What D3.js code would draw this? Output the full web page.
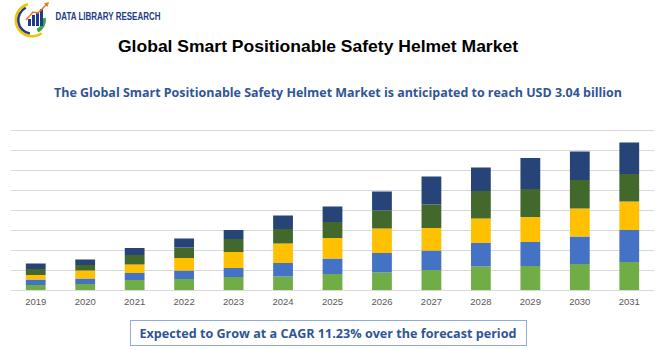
<!DOCTYPE html>
<html><head><meta charset="utf-8">
<script src="https://cdn.jsdelivr.net/npm/d3@7"></script>
<style>body{margin:0;background:#fff;}svg{display:block;}</style>
</head><body>
<script>
const years = ["2019","2020","2021","2022","2023","2024","2025","2026","2027","2028","2029","2030","2031"];
const seriesNames = ["s1","s2","s3","s4","s5"];
const s1 = [0.10,0.12,0.20,0.22,0.26,0.27,0.32,0.35,0.40,0.47,0.48,0.52,0.56];
const s2 = [0.11,0.11,0.14,0.17,0.18,0.27,0.31,0.39,0.39,0.47,0.48,0.55,0.64];
const s3 = [0.09,0.16,0.17,0.25,0.32,0.39,0.41,0.49,0.45,0.49,0.50,0.56,0.57];
const s4 = [0.12,0.11,0.19,0.21,0.26,0.29,0.32,0.36,0.47,0.55,0.56,0.57,0.55];
const s5 = [0.11,0.11,0.14,0.18,0.18,0.27,0.31,0.38,0.56,0.47,0.62,0.57,0.63];
const colors = ["#70AD47","#4472C4","#FFC000","#43682B","#264478"];
const yTicks = [0,0.4,0.8,1.2,1.6,2.0,2.4,2.8,3.2];
const title = "Global Smart Positionable Safety Helmet Market";
const subtitle = "The Global Smart Positionable Safety Helmet Market is anticipated to reach USD 3.04 billion";
const cagrText = "Expected to Grow at a CAGR 11.23% over the forecast period";
const brand = "DATA LIBRARY RESEARCH";

const W=670,H=350;
const svg=d3.select("body").append("svg").attr("width",W).attr("height",H);

// logo
const lg=svg.append("g");
const arc=d3.arc();
const cx=32, cy=20;
lg.append("path").attr("transform",`translate(${cx},${cy})`)
  .attr("d",arc({innerRadius:15,outerRadius:17.5,startAngle:Math.PI*0.8,endAngle:Math.PI*1.92})).attr("fill","#F2C200");
lg.append("path").attr("transform",`translate(${cx},${cy})`)
  .attr("d",arc({innerRadius:12.5,outerRadius:15,startAngle:Math.PI*1.05,endAngle:Math.PI*1.85})).attr("fill","#1F3C88");
lg.append("path").attr("transform",`translate(${cx},${cy})`)
  .attr("d",arc({innerRadius:10,outerRadius:14,startAngle:Math.PI*0.45,endAngle:Math.PI*0.85})).attr("fill","#3BA34A");
[[28,19],[32,15],[36,12],[40,9]].forEach(b=>{
  lg.append("rect").attr("x",b[0]).attr("y",b[1]).attr("width",3).attr("height",26-b[1]).attr("fill","#1F3C88");
});
lg.append("path").attr("d","M26,20 L33,12 L38,13 L47,4").attr("fill","none").attr("stroke","#E8792B").attr("stroke-width",1.5);
lg.append("path").attr("d","M49,2 L44,3.5 L47.5,7 Z").attr("fill","#E8792B");
lg.append("text").attr("x",55.5).attr("y",20).text(brand)
  .attr("font-family","'Liberation Sans Narrow','Liberation Sans',Arial,sans-serif").attr("font-weight","bold")
  .attr("font-size",11).attr("fill","#1F3C88").attr("textLength",105).attr("lengthAdjust","spacingAndGlyphs");

// titles
svg.append("text").attr("x",318).attr("y",52).attr("text-anchor","middle").text(title)
  .attr("font-family","'Liberation Sans',Arial,sans-serif").attr("font-weight","bold").attr("font-size",16.5)
  .attr("fill","#000").attr("textLength",400).attr("lengthAdjust","spacingAndGlyphs");
svg.append("text").attr("x",338).attr("y",97).attr("text-anchor","middle").text(subtitle)
  .attr("font-family","'Open Sans','Liberation Sans',sans-serif").attr("font-weight","bold").attr("font-size",12.5)
  .attr("fill","#2F5597").attr("textLength",568).attr("lengthAdjust","spacingAndGlyphs");

// chart
const x=d3.scaleBand().domain(years).range([11,654]).paddingInner(0.6).paddingOuter(0.3);
const y=d3.scaleLinear().domain([0,3.2]).range([290,130]);
const grid=svg.append("g");
grid.selectAll("line").data(yTicks).join("line")
  .attr("x1",11).attr("x2",654).attr("y1",d=>y(d)+0.5).attr("y2",d=>y(d)+0.5)
  .attr("stroke","#D9D9D9").attr("stroke-width",1);

const series=[s1,s2,s3,s4,s5];
const table=years.map((yr,i)=>{const o={year:yr};seriesNames.forEach((n,j)=>o[n]=series[j][i]);return o;});
const stack=d3.stack().keys(seriesNames)(table);
svg.append("g").selectAll("g").data(stack).join("g").attr("fill",(d,i)=>colors[i])
  .selectAll("rect").data(d=>d).join("rect")
  .attr("x",d=>x(d.data.year)).attr("width",x.bandwidth())
  .attr("y",d=>y(d[1])).attr("height",d=>y(d[0])-y(d[1]));

const xa=svg.append("g").attr("transform","translate(0,290)").call(d3.axisBottom(x).tickSize(0).tickPadding(8));
xa.select(".domain").remove();
xa.selectAll("text").attr("font-family","'Liberation Sans',Arial,sans-serif").attr("font-size",9.5).attr("fill","#595959");

// bottom box
svg.append("rect").attr("x",130.5).attr("y",320.5).attr("width",396).attr("height",25)
  .attr("fill","#fff").attr("stroke","#8FAADC").attr("stroke-width",1);
svg.append("text").attr("x",328).attr("y",338).attr("text-anchor","middle").text(cagrText)
  .attr("font-family","'Open Sans','Liberation Sans',sans-serif").attr("font-weight","bold").attr("font-size",13)
  .attr("fill","#2F5597").attr("textLength",377).attr("lengthAdjust","spacingAndGlyphs");
</script>
</body></html>
